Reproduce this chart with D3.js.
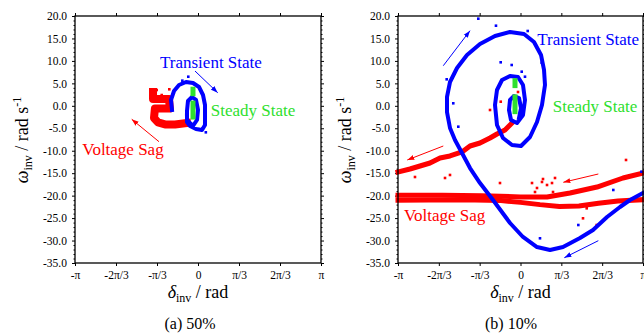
<!DOCTYPE html>
<html>
<head>
<meta charset="utf-8">
<script src="https://cdn.jsdelivr.net/npm/d3@7"></script>
<style>
body { margin: 0; background: #fff; }
</style>
</head>
<body>
<div id="chart-area"></div>
<script>
var PI = Math.PI;
var serif = "'Liberation Serif', 'Times New Roman', serif";

// axis ticks
var xTicks = [-PI, -2 * PI / 3, -PI / 3, 0, PI / 3, 2 * PI / 3, PI];
var xTickLabels = ["-π", "-2π/3", "-π/3", "0", "π/3", "2π/3", "π"];
var yTicks = [20, 15, 10, 5, 0, -5, -10, -15, -20, -25, -30, -35];
var yMinor = d3.range(-35, 21, 1).filter(function(d) { return d % 5 != 0; });

// (a) 50% sag  -- [delta, omega]
var sagA = [[-1.149, 3.08], [-1.149, 1.5], [-0.740, 1.5], [-0.720, -0.6], [-1.100, -0.6],
  [-1.124, -2.71], [-1.022, -3.70], [-0.843, -4.15], [-0.587, -4.15], [-0.281, -3.83]];
var sagDotsA = [[-1.055, 3.52], [-0.733, 3.68], [-0.927, 2.4], [-1.124, 2.9], [-0.62, 2.9], [-0.30, -2.0]];
var transientA = [[-0.664, -0.93], [-0.689, 1.30], [-0.613, 3.30], [-0.485, 4.64], [-0.306, 5.30],
  [-0.128, 5.08], [0.026, 4.19], [0.128, 2.41], [0.179, 0.18], [0.179, -2.04], [0.179, -4.27],
  [0.102, -5.38], [-0.051, -5.16], [-0.204, -4.49], [-0.281, -3.60], [-0.281, -1.15],
  [-0.256, 1.07], [-0.153, 1.96], [-0.051, 1.30], [0.0, -0.93], [-0.026, -3.16],
  [-0.128, -4.49], [-0.230, -3.60]];
var transientDotsA = [[-0.248, 6.48], [0.20, -5.9], [-0.40, 5.6]];
var steadyA = [[[-0.128, 3.7], [-0.128, 2.7]], [[-0.128, 0.6], [-0.128, -2.5]]];

// (b) 10% sag
var sagDiagB = [[-0.218, -3.83], [-0.398, -5.38], [-0.603, -6.28], [-0.782, -7.17], [-1.039, -8.28],
  [-1.295, -8.95], [-1.500, -10.28], [-1.808, -11.17], [-2.064, -11.62], [-2.321, -12.73],
  [-2.577, -13.40], [-2.834, -14.07], [-3.142, -14.74]];
var sagUpperB = [[3.142, -14.96], [2.629, -16.07], [1.962, -18.08], [1.270, -19.41], [0.680, -20.30],
  [0.0, -20.3], [-1.0, -20.0], [-2.0, -19.9], [-3.142, -19.9]];
var sagLowerB = [[3.142, -20.9], [2.5, -21.2], [2.0, -21.7], [1.5, -22.3], [1.0, -22.4], [0.5, -22.0],
  [0.0, -21.5], [-0.5, -21.1], [-1.5, -20.9], [-3.142, -21.0]];
var sagDotsB = [[0.295, -17.19], [0.551, -16.96], [0.577, -16.30], [0.680, -17.63], [0.885, -16.07],
  [0.808, -17.19], [0.423, -18.30], [0.372, -19.19], [0.834, -19.19], [2.706, -12.06],
  [-0.526, -17.19], [-1.808, -15.40], [-1.936, -16.07], [-2.706, -15.85], [1.698, -22.82],
  [1.603, -25.05], [1.954, -26.54], [-0.064, 3.08], [-0.116, 1.30], [-0.507, 0.92], [-0.782, -0.93]];
var transientB = [[3.142, -19.41], [2.809, -20.97], [2.552, -22.53], [2.219, -24.76], [1.860, -27.65],
  [1.526, -29.43], [1.090, -31.44], [0.757, -32.10], [0.423, -31.44], [0.064, -29.21],
  [-0.269, -26.09], [-0.705, -20.97], [-1.039, -17.19], [-1.295, -13.85], [-1.500, -10.51],
  [-1.680, -7.61], [-1.808, -4.94], [-1.885, -1.38], [-1.885, 1.96], [-1.808, 5.30],
  [-1.628, 8.42], [-1.372, 11.32], [-1.039, 13.77], [-0.654, 15.55], [-0.269, 16.44],
  [0.090, 15.99], [0.346, 14.21], [0.526, 11.32], [0.603, 7.98], [0.628, 4.64], [0.551, 0.18],
  [0.423, -3.60], [0.244, -6.94], [0.013, -8.95], [-0.218, -8.72], [-0.449, -7.17],
  [-0.603, -4.27], [-0.654, 0.18], [-0.603, 3.52], [-0.474, 5.75], [-0.269, 6.64],
  [-0.064, 6.42], [0.064, 4.64], [0.115, 1.30], [0.064, -2.04], [-0.090, -3.83],
  [-0.244, -3.16], [-0.295, -0.93], [-0.269, 1.30], [-0.167, 2.19], [-0.038, 1.74],
  [0.013, -0.49], [-0.038, -2.71]];
var transientDotsB = [[-1.082, 19.4], [-0.629, 17.84], [0.185, 16.66], [-0.508, 9.69], [-0.226, 9.09],
  [0.031, 7.60], [0.115, 6.48], [0.544, 9.6], [-1.724, 0.56], [-1.893, 5.9], [-1.595, -4.65],
  [0.5, -29.5], [1.483, -26.54], [2.38, -18.74], [3.10, -14.67]];
var steadyB = [[[-0.141, 5.6], [-0.141, 4.5]], [[-0.141, 2.0], [-0.141, -1.3]]];

var red = "#ff0000", blue = "#0000ff", green = "#2ee02e";

var svg = d3.select("#chart-area").append("svg")
  .attr("width", 644)
  .attr("height", 336);

var defs = svg.append("defs");
[["r", red], ["b", blue]].forEach(function(m) {
  defs.append("marker")
    .attr("id", "head-" + m[0])
    .attr("markerUnits", "userSpaceOnUse")
    .attr("markerWidth", 7).attr("markerHeight", 6)
    .attr("refX", 7).attr("refY", 3)
    .attr("orient", "auto")
    .append("path").attr("d", "M0,0.5 L7,3 L0,5.5 Z").attr("fill", m[1]);
});

function panel(left, right) {
  var g = svg.append("g");
  var x = d3.scaleLinear().domain([-PI, PI]).range([left, right]);
  var y = d3.scaleLinear().domain([-35, 20]).range([263, 16]);

  function clean(sel) {
    sel.select(".domain").remove();
    sel.attr("font-family", null).attr("font-size", null);
    sel.selectAll("text").style("font-family", serif).style("font-size", "11.5px").attr("fill", "#000");
  }
  g.append("g").attr("transform", "translate(0,263)")
    .call(d3.axisBottom(x).tickValues(xTicks).tickFormat(function(d, i) { return xTickLabels[i]; })
      .tickSize(3).tickPadding(5).tickSizeOuter(0))
    .call(clean);
  g.append("g").attr("transform", "translate(0,16)")
    .call(d3.axisTop(x).tickValues(xTicks).tickFormat("").tickSize(3).tickSizeOuter(0))
    .call(clean);
  g.append("g").attr("transform", "translate(" + left + ",0)")
    .call(d3.axisLeft(y).tickValues(yTicks).tickFormat(function(d) { return d.toFixed(1); })
      .tickSize(3).tickPadding(5).tickSizeOuter(0))
    .call(clean);
  g.append("g").attr("transform", "translate(" + left + ",0)")
    .call(d3.axisLeft(y).tickValues(yMinor).tickFormat("").tickSize(1.5).tickSizeOuter(0))
    .call(clean);
  g.append("g").attr("transform", "translate(" + right + ",0)")
    .call(d3.axisRight(y).tickValues(yTicks).tickFormat("").tickSize(3).tickSizeOuter(0))
    .call(clean);
  g.append("g").attr("transform", "translate(" + right + ",0)")
    .call(d3.axisRight(y).tickValues(yMinor).tickFormat("").tickSize(1.5).tickSizeOuter(0))
    .call(clean);

  var plot = g.append("g");
  g.append("rect")
    .attr("x", left).attr("y", 16)
    .attr("width", right - left).attr("height", 247)
    .attr("fill", "none").attr("stroke", "#000").attr("stroke-width", 1.3);

  // x label
  var xl = g.append("text")
    .attr("x", (left + right) / 2).attr("y", 298)
    .attr("text-anchor", "middle").style("font-family", serif).style("font-size", "18px");
  xl.append("tspan").attr("font-style", "italic").text("δ");
  xl.append("tspan").style("font-size", "12px").attr("dy", 4).text("inv");
  xl.append("tspan").attr("dy", -4).text(" / rad");

  // y label
  var yl = g.append("text")
    .attr("transform", "translate(" + (left - 47) + ",140) rotate(-90)")
    .attr("text-anchor", "middle").style("font-family", serif).style("font-size", "18px");
  yl.append("tspan").attr("font-style", "italic").text("ω");
  yl.append("tspan").style("font-size", "12px").attr("dy", 4).text("inv");
  yl.append("tspan").attr("dy", -4).text(" / rad s");
  yl.append("tspan").style("font-size", "12px").attr("dy", -7).text("-1");

  return { g: g, plot: plot, x: x, y: y };
}

function lines(p, segs, color, w) {
  var line = d3.line().x(function(d) { return p.x(d[0]); }).y(function(d) { return p.y(d[1]); });
  p.plot.selectAll(null).data(segs).enter().append("path")
    .attr("d", line)
    .attr("fill", "none")
    .attr("stroke", color)
    .attr("stroke-width", w)
    .attr("stroke-linejoin", "round")
    .attr("stroke-linecap", "square");
}

function dots(p, pts, color) {
  p.plot.selectAll(null).data(pts).enter().append("rect")
    .attr("x", function(d) { return p.x(d[0]) - 1.3; })
    .attr("y", function(d) { return p.y(d[1]) - 1.3; })
    .attr("width", 2.6).attr("height", 2.6)
    .attr("fill", color);
}

function arrow(p, a, color, id) {
  p.plot.append("line")
    .attr("x1", p.x(a[0])).attr("y1", p.y(a[1]))
    .attr("x2", p.x(a[2])).attr("y2", p.y(a[3]))
    .attr("stroke", color).attr("stroke-width", 1)
    .attr("marker-end", "url(#head-" + id + ")");
}

function label(p, pos, txt, color) {
  p.plot.append("text")
    .attr("x", p.x(pos[0])).attr("y", p.y(pos[1]))
    .style("font-family", serif).style("font-size", "17px")
    .attr("fill", color)
    .text(txt);
}

function caption(cx, txt) {
  svg.append("text")
    .attr("x", cx).attr("y", 329)
    .attr("text-anchor", "middle")
    .style("font-family", serif).style("font-size", "16px")
    .text(txt);
}

// panel (a)
var pa = panel(75, 321);
lines(pa, [sagA], red, 8);
dots(pa, sagDotsA, red);
lines(pa, [transientA], blue, 4);
dots(pa, transientDotsA, blue);
lines(pa, steadyA, green, 5);
arrow(pa, [-0.077, 7.75, 0.503, 2.92], blue, "b");
arrow(pa, [-0.996, -7.99, -1.693, -3.00], red, "r");
label(pa, [-0.970, 8.42], "Transient State", blue);
label(pa, [0.325, -2.27], "Steady State", green);
label(pa, [-2.955, -11.06], "Voltage Sag", red);
caption(190, "(a) 50%");

// panel (b)
var pb = panel(398, 643);
lines(pb, [sagDiagB, sagUpperB, sagLowerB], red, 5);
dots(pb, sagDotsB, red);
lines(pb, [transientB], blue, 4);
dots(pb, transientDotsB, blue);
lines(pb, steadyB, green, 5);
arrow(pb, [-1.980, 8.93, -1.295, 16.73], blue, "b");
arrow(pb, [-1.980, -8.95, -2.903, -12.06], red, "r");
arrow(pb, [1.996, -15.18, 1.098, -17.03], red, "r");
arrow(pb, [1.996, -30.03, 1.124, -33.82], blue, "b");
label(pb, [0.431, 13.54], "Transient State", blue);
label(pb, [0.826, -1.38], "Steady State", green);
label(pb, [-2.988, -25.65], "Voltage Sag", red);
caption(511, "(b) 10%");
</script>
</body>
</html>
